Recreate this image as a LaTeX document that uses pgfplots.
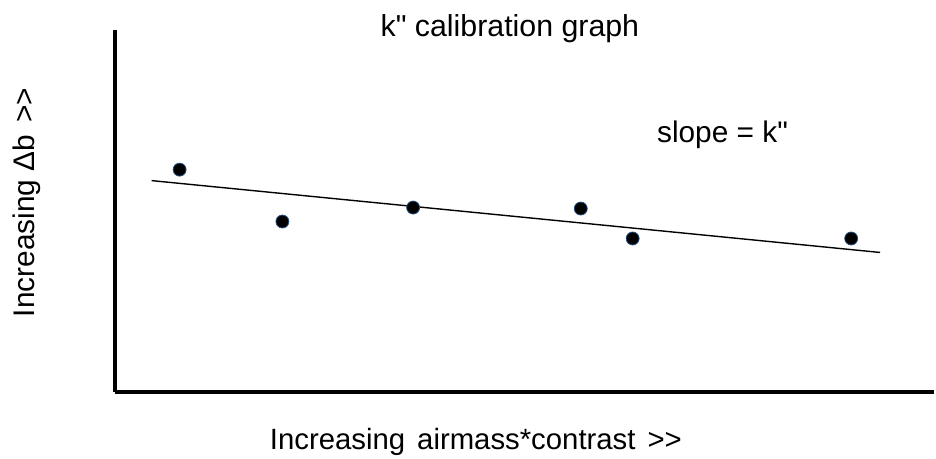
\documentclass[border=0pt]{standalone}
\usepackage{fontspec}
\setmainfont{Liberation Sans}[Ligatures=TeXOff]
\usepackage{pgfplots}
\pgfplotsset{compat=1.18}
\definecolor{dotedge}{RGB}{40,80,130}
\begin{document}
\begin{tikzpicture}
\begin{axis}[
  scale only axis,
  width=821bp, height=363bp,
  xmin=115, xmax=936, ymin=66, ymax=429,
  axis lines=left,
  axis line style={-, line width=4bp, black},
  xtick=\empty, ytick=\empty,
  clip=false,
]
\path (axis cs:0,0) rectangle (axis cs:936,459);
% fitted line
\addplot[black, line width=1.4bp, no marks] coordinates {(152,278) (882,206)};
% measurements
\addplot[only marks, mark=*, mark size=6.5bp,
  mark options={fill=black, draw=dotedge, line width=0.8bp}]
  coordinates {(180,289) (283,237) (414,251) (582,250) (634,220) (853,220)};
\node[anchor=base, font=\fontsize{30.5}{36}\selectfont] at (axis cs:511,422) {k" calibration graph};
\node[anchor=base west, font=\fontsize{30}{36}\selectfont] at (axis cs:655,316) {slope = k"};
\node[anchor=base west, font=\fontsize{29.5}{36}\selectfont] at (axis cs:267,9) {Increasing\hspace{12bp}airmass*contrast\hspace{12bp}>>};
\node[anchor=base, rotate=90, font=\fontsize{30}{36}\selectfont] at (axis cs:35,256) {Increasing Δb\hspace{12bp}>>};
\end{axis}
\end{tikzpicture}
\end{document}
